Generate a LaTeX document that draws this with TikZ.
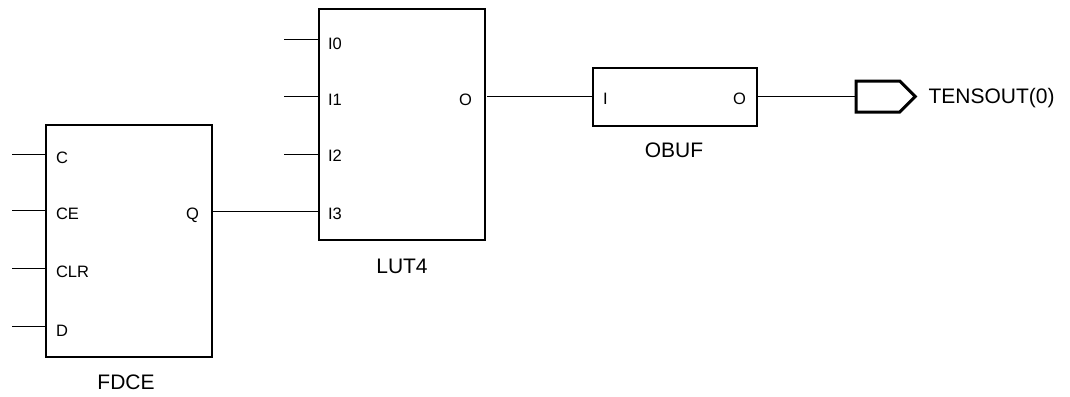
\documentclass[tikz,border=0pt]{standalone}
\usepackage{fontspec}
\setmainfont{Liberation Sans}
\usetikzlibrary{shapes.symbols}
\begin{document}
\begin{tikzpicture}[x=1pt,y=-1pt,line width=1pt,
main node/.style={rectangle,draw,line width=2pt,inner sep=0pt},
port node/.style={signal,signal to=east,signal pointer angle=90,draw,line width=3pt,inner sep=0pt,minimum width=59pt,minimum height=31pt},
pin label/.style={inner sep=0pt,font=\fontsize{16.5}{18}\selectfont},
cell label/.style={inner sep=0pt,anchor=base,font=\fontsize{21}{23}\selectfont}]
\useasboundingbox (0,0) rectangle (1070,396);
\begin{scope}
\node[main node,minimum width=166pt,minimum height=232pt] (fdce) at (128.7,241) {};%FDCE
\node[main node,minimum width=166pt,minimum height=231pt] (lut) at (401.8,124.5) {};%LUT4
\node[main node,minimum width=164pt,minimum height=58pt] (obuf) at (674.5,96.7) {};%OBUF
\node[port node,anchor=west] (port) at (854.7,96.5) {};%TENSOUT
\end{scope}
\begin{scope}[every node/.style={pin label,anchor=base west}]
\node (fdcec) at (55.5,163) {C};
\node (fdcece) at (55.5,219) {CE};
\node (fdceclr) at (55.5,277) {CLR};
\node (fdced) at (55.5,336) {D};
\node (luti0) at (327.5,49) {I0};
\node (luti1) at (327.5,105) {I1};
\node (luti2) at (327.5,161) {I2};
\node (luti3) at (327.5,219) {I3};
\node (obufi) at (602.5,104) {I};
\end{scope}
\begin{scope}[every node/.style={pin label,anchor=base east}]
\node (fdceq) at (199.5,219) {Q};
\node (luto) at (472.5,105) {O};
\node (obufo) at (746.5,104) {O};
\end{scope}
\node[cell label] (fdcename) at (126,389) {FDCE};
\node[cell label] (lutname) at (402,273) {LUT4};
\node[cell label] (obufname) at (674,157) {OBUF};
\node[cell label,anchor=base west] (portname) at (928,103) {TENSOUT(0)};
\coordinate (wc) at (12,154);
\coordinate (wce) at (12,210);
\coordinate (wclr) at (12,268);
\coordinate (wd) at (12,326);
\coordinate (w0) at (284,40);
\coordinate (w1) at (284,96.5);
\coordinate (w2) at (284,154);
\coordinate (w3) at (284,211);
\begin{scope}
\draw (wc) -- (wc -| fdce.west);
\draw (wce) -- (wce -| fdce.west);
\draw (wclr) -- (wclr -| fdce.west);
\draw (wd) -- (wd -| fdce.west);
\draw (w0) -- (w0 -| lut.west);
\draw (w1) -- (w1 -| lut.west);
\draw (w2) -- (w2 -| lut.west);
\draw (w3) -- (w3 -| lut.west);
\draw (w3 -| fdce.east) -- (w3 -| lut.west);%Q to I3
\draw[shorten <=1.5pt] (w1 -| lut.east) -- (w1 -| obuf.west);%O to I
\draw (obuf.east |- port.west) -- (port.west);
\end{scope}
\end{tikzpicture}
\end{document}
